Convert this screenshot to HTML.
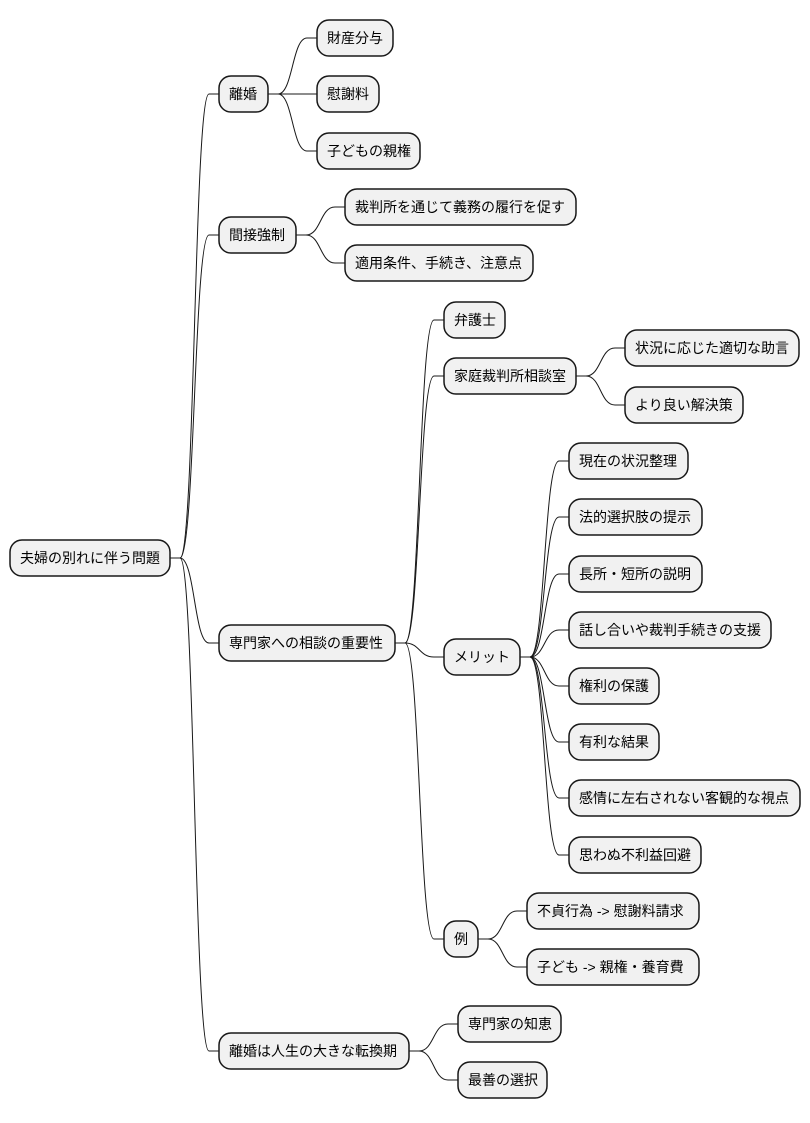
<!DOCTYPE html>
<html><head><meta charset="utf-8"><style>
body{margin:0;background:#fff}
svg text{font-family:"Liberation Sans","Noto Sans CJK JP",sans-serif;font-size:14px;fill:#000}
rect{fill:#F1F1F1;stroke:#181818;stroke-width:1.5}
path{fill:none;stroke:#181818;stroke-width:1}
</style></head><body>
<svg width="810" height="1118" viewBox="0 0 810 1118" xmlns="http://www.w3.org/2000/svg">
<g>
<path d="M170 558 H180 C195 558,194 94,209 94 H219"/>
<path d="M170 558 H180 C195 558,194 235,209 235 H219"/>
<path d="M170 558 H180 C195 558,194 643,209 643 H219"/>
<path d="M170 558 H180 C195 558,194 1051,209 1051 H219"/>
<path d="M268 94 H278 C293 94,292 38,307 38 H317"/>
<path d="M268 94 H317"/>
<path d="M268 94 H278 C293 94,292 151,307 151 H317"/>
<path d="M296 235 H306 C321 235,320 207,335 207 H345"/>
<path d="M296 235 H306 C321 235,320 263,335 263 H345"/>
<path d="M395 643 H405 C420 643,419 320,434 320 H444"/>
<path d="M395 643 H405 C420 643,419 376,434 376 H444"/>
<path d="M395 643 H405 C420 643,419 657,434 657 H444"/>
<path d="M395 643 H405 C420 643,419 939,434 939 H444"/>
<path d="M576 376 H586 C601 376,600 348,615 348 H625"/>
<path d="M576 376 H586 C601 376,600 405,615 405 H625"/>
<path d="M520 657 H530 C545 657,544 461,559 461 H569"/>
<path d="M520 657 H530 C545 657,544 517,559 517 H569"/>
<path d="M520 657 H530 C545 657,544 574,559 574 H569"/>
<path d="M520 657 H530 C545 657,544 630,559 630 H569"/>
<path d="M520 657 H530 C545 657,544 686,559 686 H569"/>
<path d="M520 657 H530 C545 657,544 742,559 742 H569"/>
<path d="M520 657 H530 C545 657,544 798,559 798 H569"/>
<path d="M520 657 H530 C545 657,544 855,559 855 H569"/>
<path d="M478 939 H488 C503 939,502 911,517 911 H527"/>
<path d="M478 939 H488 C503 939,502 967,517 967 H527"/>
<path d="M409 1051 H419 C434 1051,433 1024,448 1024 H458"/>
<path d="M409 1051 H419 C434 1051,433 1080,448 1080 H458"/>
</g>
<g>
<rect x="10" y="540" width="160" height="36" rx="12"/><text x="20" y="563">夫婦の別れに伴う問題</text>
<rect x="219" y="76" width="49" height="36" rx="12"/><text x="229" y="99">離婚</text>
<rect x="317" y="20" width="76" height="36" rx="12"/><text x="327" y="43">財産分与</text>
<rect x="317" y="76" width="62" height="36" rx="12"/><text x="327" y="99">慰謝料</text>
<rect x="317" y="133" width="103" height="36" rx="12"/><text x="327" y="156">子どもの親権</text>
<rect x="219" y="217" width="77" height="36" rx="12"/><text x="229" y="240">間接強制</text>
<rect x="345" y="189" width="231" height="36" rx="12"/><text x="355" y="212">裁判所を通じて義務の履行を促す</text>
<rect x="345" y="245" width="188" height="36" rx="12"/><text x="355" y="268">適用条件、手続き、注意点</text>
<rect x="219" y="625" width="176" height="36" rx="12"/><text x="229" y="648">専門家への相談の重要性</text>
<rect x="444" y="302" width="61" height="36" rx="12"/><text x="454" y="325">弁護士</text>
<rect x="444" y="358" width="132" height="36" rx="12"/><text x="454" y="381">家庭裁判所相談室</text>
<rect x="625" y="330" width="174" height="36" rx="12"/><text x="635" y="353">状況に応じた適切な助言</text>
<rect x="625" y="387" width="118" height="36" rx="12"/><text x="635" y="410">より良い解決策</text>
<rect x="444" y="639" width="76" height="36" rx="12"/><text x="454" y="662">メリット</text>
<rect x="569" y="443" width="119" height="36" rx="12"/><text x="579" y="466">現在の状況整理</text>
<rect x="569" y="499" width="133" height="36" rx="12"/><text x="579" y="522">法的選択肢の提示</text>
<rect x="569" y="556" width="133" height="36" rx="12"/><text x="579" y="579">長所・短所の説明</text>
<rect x="569" y="612" width="202" height="36" rx="12"/><text x="579" y="635">話し合いや裁判手続きの支援</text>
<rect x="569" y="668" width="90" height="36" rx="12"/><text x="579" y="691">権利の保護</text>
<rect x="569" y="724" width="90" height="36" rx="12"/><text x="579" y="747">有利な結果</text>
<rect x="569" y="780" width="231" height="36" rx="12"/><text x="579" y="803">感情に左右されない客観的な視点</text>
<rect x="569" y="837" width="132" height="36" rx="12"/><text x="579" y="860">思わぬ不利益回避</text>
<rect x="444" y="921" width="34" height="36" rx="12"/><text x="454" y="944">例</text>
<rect x="527" y="893" width="172" height="36" rx="12"/><text x="537" y="916">不貞行為 -&gt; 慰謝料請求</text>
<rect x="527" y="949" width="172" height="36" rx="12"/><text x="537" y="972">子ども -&gt; 親権・養育費</text>
<rect x="219" y="1033" width="190" height="36" rx="12"/><text x="229" y="1056">離婚は人生の大きな転換期</text>
<rect x="458" y="1006" width="103" height="36" rx="12"/><text x="468" y="1029">専門家の知恵</text>
<rect x="458" y="1062" width="89" height="36" rx="12"/><text x="468" y="1085">最善の選択</text>
</g>
</svg>
</body></html>
